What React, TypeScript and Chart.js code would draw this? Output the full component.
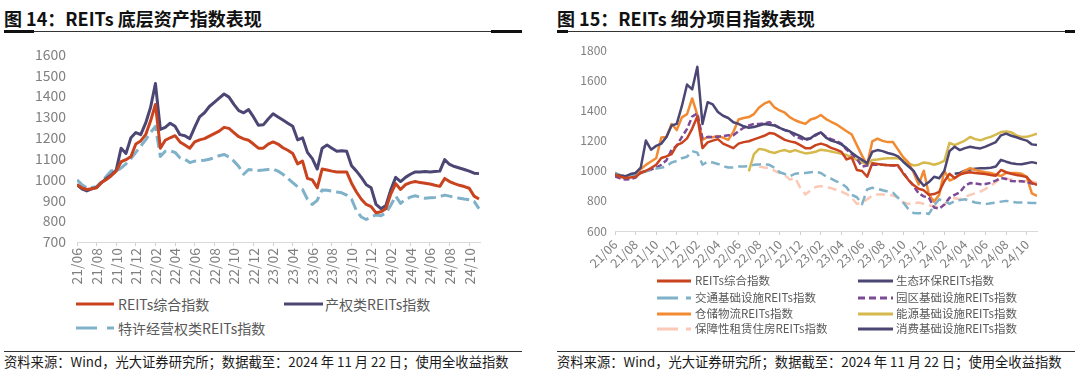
import React, { useEffect, useRef } from 'react';
import { Chart, registerables } from 'chart.js';

Chart.register(...registerables);

const FONT = '"Noto Sans CJK SC", "Noto Sans", sans-serif';

// ---------------- data ----------------
// x = months since 21/06, sampled every half month
const START_YEAR = 21;
const START_MONTH = 6;
const X_TICKS = [0, 2, 4, 6, 8, 10, 12, 14, 16, 18, 20, 22, 24, 26, 28, 30, 32, 34, 36, 38, 40];

const lead = (n: number) => Array(n).fill(null);

const REITS_ALL = [
  975, 960, 952, 955, 960, 985, 1000, 1018, 1040, 1085,
  1095, 1110, 1170, 1185, 1215, 1280, 1360, 1150, 1188, 1200,
  1210, 1180, 1165, 1150, 1180, 1190, 1196, 1208, 1220, 1232,
  1250, 1245, 1225, 1205, 1195, 1188, 1170, 1150, 1150, 1170,
  1180, 1170, 1152, 1140, 1125, 1075, 1088, 1005, 998, 960,
  1050, 1045, 1040, 1036, 1036, 1036, 982, 940, 905, 880,
  870, 840, 845, 860, 930, 980, 952, 975, 985, 990,
  985, 982, 978, 972, 967, 1005, 990, 980, 972, 966,
  958, 920, 906,
];
const PROPERTY = [
  975, 955, 945, 955, 962, 985, 1005, 1022, 1045, 1150,
  1125, 1200, 1225, 1215, 1270, 1345, 1460, 1240, 1250, 1270,
  1255, 1215, 1210, 1196, 1250, 1300, 1320, 1350, 1370, 1390,
  1410, 1395, 1360, 1330, 1320, 1335, 1300, 1260, 1262, 1290,
  1315, 1300, 1285, 1270, 1255, 1190, 1200, 1130, 1100, 1050,
  1150, 1165, 1150, 1135, 1138, 1135, 1066, 1040, 1010, 975,
  960, 880, 860, 875, 950, 1010, 990, 1010, 1025, 1036,
  1036, 1038, 1036, 1038, 1040, 1095, 1072, 1062, 1055, 1048,
  1040, 1030, 1028,
];
const CONCESSION = [
  998, 975, 960, 962, 965, 990, 1015, 1042, 1040, 1055,
  1075, 1100, 1130, 1160, 1190, 1225, 1255, 1110, 1135, 1137,
  1130, 1104, 1097, 1081, 1088, 1090, 1092, 1097, 1105, 1114,
  1120, 1108, 1088, 1062, 1025, 1048, 1045, 1043, 1045, 1048,
  1050, 1040, 1025, 1005, 985, 965, 952, 905, 880, 900,
  950, 948, 944, 940, 936, 925, 906, 850, 820, 808,
  820, 830, 826, 840, 876, 920, 885, 905, 915, 922,
  915, 910, 912, 914, 918, 925, 920, 914, 910, 906,
  903, 895, 860,
];
const ECO = [
  974, 968, 963, 978, 985, 1020, 1200, 1140, 1165, 1180,
  1224, 1300, 1311, 1430, 1572, 1540, 1690, 1310, 1455, 1440,
  1390, 1365, 1350, 1322, 1311, 1295, 1285, 1290, 1300, 1310,
  1305, 1300, 1285, 1270, 1260, 1245, 1230, 1210, 1215, 1240,
  1255, 1220, 1200, 1190, 1175, 1150, 1120, 1095, 1072, 1050,
  1126, 1137, 1130, 1118, 1110, 1095, 1060, 1030, 1000, 941,
  900, 925, 960, 950, 1000, 1130, 1159, 1137, 1150, 1159,
  1152, 1148, 1160, 1175, 1190, 1235, 1246, 1232, 1222, 1210,
  1200, 1175, 1170,
];
const TRANSPORT = [
  985, 970, 963, 970, 974, 985, 995, 1007, 1014, 1020,
  1028, 1055, 1065, 1083, 1093, 1130, 1120, 1040, 1061, 1055,
  1045, 1030, 1022, 1022, 1028, 1028, 1030, 1039, 1042, 1043,
  1039, 1020, 990, 978, 963, 980, 985, 985, 990, 994,
  985, 962, 948, 930, 915, 890, 840, 824, 778, 876,
  887, 880, 870, 862, 854, 820, 790, 746, 720, 718,
  722, 713, 770, 810, 800, 780, 798, 805, 811, 800,
  789, 784, 778, 784, 789, 795, 800, 795, 789, 789,
  788, 786, 785,
];
const PARK = [
  963, 950, 941, 945, 955, 988, 998, 1007, 1020, 1040,
  1070, 1140, 1165, 1224, 1278, 1360, 1380, 1215, 1224, 1224,
  1226, 1230, 1235, 1236, 1262, 1285, 1300, 1310, 1311, 1315,
  1322, 1305, 1285, 1270, 1257, 1228, 1215, 1202, 1215, 1235,
  1255, 1225, 1210, 1198, 1180, 1140, 1110, 1080, 1028, 1035,
  1039, 1040, 1039, 1038, 1035, 1030, 990, 940, 900, 850,
  830, 822, 756, 748, 775, 820, 840, 856, 900, 918,
  915, 910, 912, 920, 935, 952, 945, 932, 930, 930,
  925, 915, 909,
];
const WAREHOUSE = [
  985, 970, 963, 970, 974, 1010, 1039, 1061, 1083, 1220,
  1224, 1310, 1270, 1354, 1376, 1480, 1370, 1205, 1224, 1222,
  1230, 1220, 1205, 1257, 1340, 1350, 1356, 1376, 1420, 1445,
  1460, 1420, 1400, 1385, 1354, 1335, 1322, 1311, 1340, 1350,
  1370, 1343, 1325, 1308, 1285, 1262, 1240, 1170, 1100, 1039,
  1195, 1213, 1198, 1190, 1191, 1140, 1090, 1055, 990, 909,
  1000, 840, 795, 840, 1000, 935, 950, 974, 1000, 1017,
  1005, 996, 990, 985, 975, 965, 985, 985, 985, 980,
  960, 850, 833,
];
const ENERGY = [
  ...lead(26),
  996, 1110, 1145, 1140, 1126, 1118, 1130, 1137, 1126, 1137,
  1125, 1115, 1120, 1126, 1140, 1135, 1128, 1120, 1112, 1104,
  1090, 1072, 1055, 1039, 1072, 1075, 1080, 1083, 1083, 1083,
  1070, 1050, 1035, 1040, 1055, 1050, 1040, 1050, 1065, 1185,
  1170, 1185, 1200, 1224, 1210, 1202, 1215, 1225, 1240, 1257,
  1260, 1255, 1235, 1224, 1225, 1235, 1246,
];
const HOUSING = [
  ...lead(28),
  1028, 1022, 1017, 1000, 985, 970, 941, 952, 887, 843,
  870, 892, 898, 890, 885, 872, 862, 845, 820, 780,
  789, 810, 835, 843, 843, 843, 835, 822, 790, 780,
  785, 789, 780, 770, 765, 756, 775, 815, 818, 811,
  825, 840, 850, 862, 880, 898, 925, 950, 948, 941,
  935, 930, 930, 928, 920,
];
const CONSUMER = [
  ...lead(66),
  980, 985, 1000, 1008, 1014, 1017, 1017, 1020, 1028, 1072,
  1060, 1050, 1045, 1043, 1050, 1057, 1050,
];

// ---------------- styles ----------------
const RED = '#c9431f';
const DARK = '#4b4673';
const BLUE = '#7fb1c9';
const PURPLE = '#7d4a98';
const ORANGE = '#f28a32';
const GOLD = '#d6b94c';
const PEACH = '#fbc9b6';

const monthLabel = (v: number) => {
  const total = START_MONTH - 1 + v;
  const yy = START_YEAR + Math.floor(total / 12);
  const mm = (total % 12) + 1;
  return `${yy}/${String(mm).padStart(2, '0')}`;
};

const toPoints = (arr: (number | null)[]) => arr.map((y, i) => ({ x: i * 0.5, y }));

type Series = { label: string; values: (number | null)[]; color: string; width: number; dash?: number[] };

type PanelOpts = {
  series: Series[];
  yMin: number; yMax: number; yStep: number;
  xMax: number; rot: number;
  padTop: number; padRight: number;
  yAxisWidth: number; xAxisHeight: number;
  yPad: number; yFont: number; xFont: number;
};

function makeConfig(o: PanelOpts): any {
  return {
    type: 'line',
    data: {
      datasets: o.series.map((s) => ({
        label: s.label,
        data: toPoints(s.values),
        borderColor: s.color,
        backgroundColor: s.color,
        borderWidth: s.width,
        borderDash: s.dash || [],
        pointRadius: 0,
        tension: 0,
        fill: false,
        spanGaps: false,
        borderJoinStyle: 'round',
      })),
    },
    options: {
      responsive: false,
      animation: false,
      layout: { padding: { top: o.padTop, right: o.padRight, left: 0, bottom: 0 } },
      plugins: { legend: { display: false }, tooltip: { enabled: false }, title: { display: false } },
      scales: {
        x: {
          type: 'linear',
          min: 0,
          max: o.xMax,
          afterBuildTicks: (s: any) => { s.ticks = X_TICKS.map((v) => ({ value: v })); },
          afterFit: (s: any) => { s.height = o.xAxisHeight; },
          border: { display: true, color: '#d9d9d9', width: 1 },
          grid: { display: true, drawOnChartArea: false, drawTicks: true, tickLength: 4, color: '#d0d0d0' },
          ticks: {
            autoSkip: false,
            minRotation: o.rot,
            maxRotation: o.rot,
            padding: 2,
            color: '#808080',
            font: { family: FONT, size: o.xFont },
            callback: (v: number) => monthLabel(v),
          },
        },
        y: {
          min: o.yMin,
          max: o.yMax,
          afterFit: (s: any) => { s.width = o.yAxisWidth; },
          border: { display: false },
          grid: { display: false, drawTicks: false },
          ticks: {
            stepSize: o.yStep,
            padding: o.yPad,
            color: '#808080',
            font: { family: FONT, size: o.yFont },
            callback: (v: number) => String(v),
          },
        },
      },
    },
  };
}

function ChartBox({ left, top, width, height, opts }: { left: number; top: number; width: number; height: number; opts: PanelOpts }) {
  const ref = useRef<HTMLCanvasElement>(null);
  useEffect(() => {
    const chart = new Chart(ref.current as HTMLCanvasElement, makeConfig(opts));
    return () => chart.destroy();
  }, []);
  return (
    <canvas
      ref={ref}
      width={width}
      height={height}
      style={{ position: 'absolute', left, top, width, height }}
    />
  );
}

function LegendItem({ x1, x2, y, color, dash, textX, text, size, lw }: any) {
  return (
    <>
      <svg style={{ position: 'absolute', left: x1, top: y - 3, width: x2 - x1, height: 6, overflow: 'visible' }}>
        <line x1={0} y1={3} x2={x2 - x1} y2={3} stroke={color} strokeWidth={lw} strokeDasharray={dash ? dash.join(' ') : undefined} />
      </svg>
      <div style={{ position: 'absolute', left: textX, top: y - (size + 6) / 2, lineHeight: `${size + 6}px`, fontSize: size, color: '#595959', whiteSpace: 'nowrap' }}>
        {text}
      </div>
    </>
  );
}

function Rule({ x1, x2, y, ends }: { x1: number; x2: number; y: number; ends: [number, number] }) {
  return (
    <>
      <div style={{ position: 'absolute', left: x1, top: y, width: x2 - x1, height: 1, background: '#333' }} />
      <div style={{ position: 'absolute', left: x1, top: y - 1, width: ends[0], height: 3, background: '#111' }} />
      <div style={{ position: 'absolute', left: x2 - ends[1], top: y - 1, width: ends[1], height: 3, background: '#111' }} />
    </>
  );
}

const FOOT = '资料来源：Wind，光大证券研究所；数据截至：2024 年 11 月 22 日；使用全收益指数';

export default function App() {
  const leftOpts: PanelOpts = {
    series: [
      { label: 'REITs综合指数', values: REITS_ALL, color: RED, width: 3 },
      { label: '产权类REITs指数', values: PROPERTY, color: DARK, width: 3 },
      { label: '特许经营权类REITs指数', values: CONCESSION, color: BLUE, width: 3, dash: [12, 5] },
    ],
    yMin: 700, yMax: 1600, yStep: 100,
    xMax: 41.1, rot: 90,
    padTop: 10, padRight: 60,
    yAxisWidth: 77, xAxisHeight: 48,
    yPad: 11, yFont: 14, xFont: 14,
  };
  const rightOpts: PanelOpts = {
    series: [
      { label: 'REITs综合指数', values: REITS_ALL, color: RED, width: 2.5 },
      { label: '生态环保REITs指数', values: ECO, color: DARK, width: 2.5 },
      { label: '交通基础设施REITs指数', values: TRANSPORT, color: BLUE, width: 2.5, dash: [9, 5] },
      { label: '园区基础设施REITs指数', values: PARK, color: PURPLE, width: 2.5, dash: [6, 3] },
      { label: '仓储物流REITs指数', values: WAREHOUSE, color: ORANGE, width: 2.5 },
      { label: '能源基础设施REITs指数', values: ENERGY, color: GOLD, width: 2.5 },
      { label: '保障性租赁住房REITs指数', values: HOUSING, color: PEACH, width: 2.5, dash: [9, 5] },
      { label: '消费基础设施REITs指数', values: CONSUMER, color: DARK, width: 2.5 },
    ],
    yMin: 600, yMax: 1800, yStep: 200,
    xMax: 41.0, rot: 45,
    padTop: 12, padRight: 43,
    yAxisWidth: 75, xAxisHeight: 44,
    yPad: 8, yFont: 12, xFont: 12.5,
  };

  const titleStyle: React.CSSProperties = { position: 'absolute', top: 8, fontSize: 18, lineHeight: '20px', fontWeight: 700, color: '#111', whiteSpace: 'nowrap' };
  const footStyle: React.CSSProperties = { position: 'absolute', top: 354, fontSize: 13.3, lineHeight: '16px', color: '#1a1a1a', whiteSpace: 'nowrap' };

  return (
    <div style={{ position: 'absolute', left: 0, top: 0, width: 1080, height: 374, background: '#fff', fontFamily: FONT, overflow: 'hidden' }}>
      {/* left panel */}
      <div style={{ ...titleStyle, left: 4 }}>图 14：REITs 底层资产指数表现</div>
      <Rule x1={4} x2={522} y={31} ends={[30, 31]} />
      <ChartBox left={0} top={35} width={540} height={255} opts={leftOpts} />
      <LegendItem x1={76} x2={114} y={304} color={RED} lw={3} textX={118} text="REITs综合指数" size={14} />
      <LegendItem x1={284} x2={323} y={304} color={DARK} lw={3} textX={325} text="产权类REITs指数" size={14} />
      <LegendItem x1={76} x2={114} y={328} color={BLUE} lw={3} dash={[21, 10]} textX={118} text="特许经营权类REITs指数" size={14} />
      <Rule x1={4} x2={522} y={351} ends={[0, 0]} />
      <div style={{ ...footStyle, left: 4 }}>{FOOT}</div>

      {/* right panel */}
      <div style={{ ...titleStyle, left: 557 }}>图 15：REITs 细分项目指数表现</div>
      <Rule x1={557} x2={1075} y={31} ends={[11, 10]} />
      <ChartBox left={540} top={35} width={540} height={240} opts={rightOpts} />
      <LegendItem x1={657} x2={691} y={281} color={RED} lw={3} textX={695} text="REITs综合指数" size={11.5} />
      <LegendItem x1={858} x2={893} y={281} color={DARK} lw={3} textX={896} text="生态环保REITs指数" size={11.5} />
      <LegendItem x1={657} x2={691} y={297.5} color={BLUE} lw={3} dash={[21, 8]} textX={695} text="交通基础设施REITs指数" size={11.5} />
      <LegendItem x1={858} x2={893} y={297.5} color={PURPLE} lw={3} dash={[7, 4]} textX={896} text="园区基础设施REITs指数" size={11.5} />
      <LegendItem x1={657} x2={691} y={313.5} color={ORANGE} lw={3} textX={695} text="仓储物流REITs指数" size={11.5} />
      <LegendItem x1={858} x2={893} y={313.5} color={GOLD} lw={3} textX={896} text="能源基础设施REITs指数" size={11.5} />
      <LegendItem x1={657} x2={691} y={329} color={PEACH} lw={3} dash={[21, 8]} textX={695} text="保障性租赁住房REITs指数" size={11.5} />
      <LegendItem x1={858} x2={893} y={329} color={DARK} lw={3} textX={896} text="消费基础设施REITs指数" size={11.5} />
      <Rule x1={557} x2={1075} y={351} ends={[0, 0]} />
      <div style={{ ...footStyle, left: 557 }}>{FOOT}</div>
    </div>
  );
}
